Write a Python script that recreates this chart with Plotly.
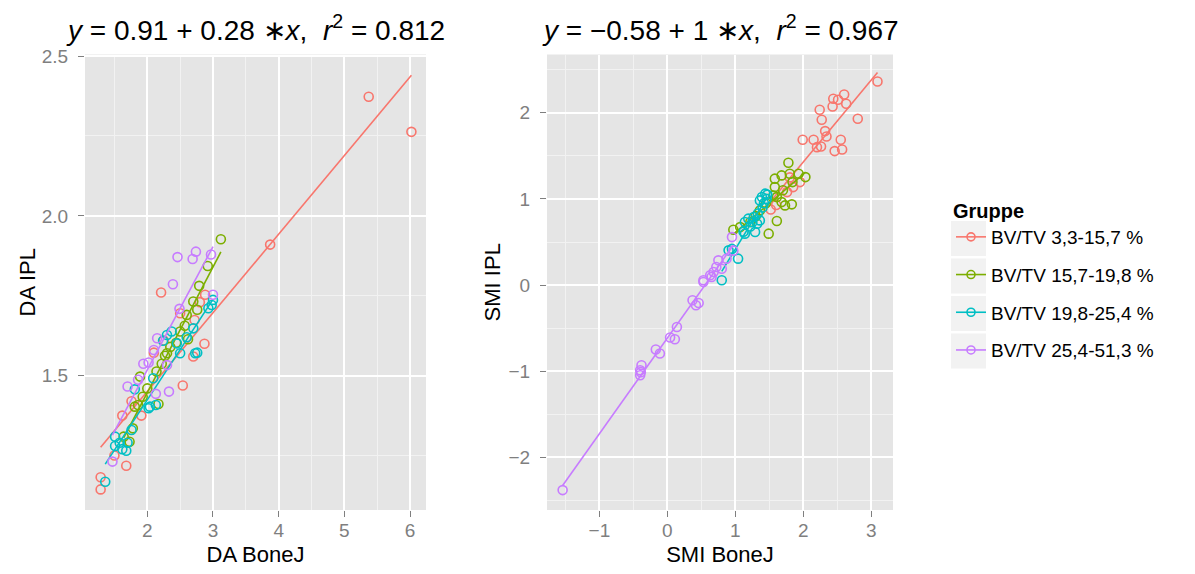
import numpy as np
import plotly.graph_objects as go

groups = ["BV/TV 3,3-15,7 %", "BV/TV 15,7-19,8 %", "BV/TV 19,8-25,4 %", "BV/TV 25,4-51,3 %"]
colors = ["#F8766D", "#7CAE00", "#00BFC4", "#C77CFF"]

# ---- Left panel: DA BoneJ (x) vs DA IPL (y)
da_bonej_1 = [1.29, 1.29, 1.68, 1.50, 1.62, 1.76, 1.91, 2.21, 2.54, 2.87, 2.70, 2.10, 2.25, 2.50, 2.72, 2.88, 2.80, 3.87, 5.37, 6.02]
da_ipl_1 = [1.182, 1.144, 1.218, 1.25, 1.375, 1.42, 1.375, 1.76, 1.469, 1.60, 1.56, 1.572, 1.61, 1.695, 1.674, 1.753, 1.73, 1.91, 2.373, 2.263]
da_bonej_2 = [3.12, 2.92, 2.79, 2.70, 2.76, 2.57, 2.62, 2.44, 2.27, 2.22, 1.89, 2.14, 2.17, 1.93, 1.81, 1.78, 1.64, 1.73, 2.60, 2.50, 2.30, 1.86, 2.35, 2.00]
da_ipl_2 = [1.927, 1.843, 1.781, 1.732, 1.706, 1.656, 1.614, 1.603, 1.562, 1.537, 1.497, 1.513, 1.411, 1.434, 1.403, 1.335, 1.309, 1.293, 1.690, 1.638, 1.570, 1.408, 1.590, 1.460]
da_bonej_3 = [1.36, 1.51, 1.58, 1.62, 1.68, 1.70, 1.76, 1.81, 2.04, 2.13, 2.02, 2.09, 2.24, 2.30, 2.37, 2.45, 2.50, 2.70, 2.76, 2.73, 2.93, 3.00, 2.98, 1.51, 2.60]
da_ipl_3 = [1.168, 1.280, 1.290, 1.270, 1.265, 1.290, 1.330, 1.457, 1.403, 1.408, 1.398, 1.492, 1.609, 1.627, 1.638, 1.601, 1.570, 1.648, 1.572, 1.570, 1.711, 1.737, 1.721, 1.309, 1.620]
da_bonej_4 = [2.46, 2.74, 2.69, 2.97, 2.39, 2.49, 3.00, 2.15, 2.10, 1.94, 2.02, 1.70, 2.13, 2.33, 1.47, 1.86, 2.30]
da_ipl_4 = [1.871, 1.888, 1.865, 1.879, 1.786, 1.709, 1.753, 1.617, 1.580, 1.537, 1.541, 1.466, 1.443, 1.450, 1.231, 1.487, 1.533]

# ---- Right panel: SMI BoneJ (x) vs SMI IPL (y)
smi_bonej_1 = [3.09, 2.44, 2.51, 2.60, 2.63, 2.43, 2.24, 2.27, 2.80, 2.32, 2.34, 1.99, 2.15, 2.20, 2.26, 2.55, 2.57, 2.46, 1.95, 1.85, 1.76, 1.52, 1.80, 1.60]
smi_ipl_1 = [2.363, 2.162, 2.151, 2.212, 2.104, 2.073, 2.035, 1.919, 1.930, 1.787, 1.725, 1.687, 1.687, 1.601, 1.609, 1.687, 1.574, 1.555, 1.195, 1.137, 1.079, 0.877, 1.250, 0.930]
smi_bonej_2 = [1.78, 1.58, 1.68, 1.80, 1.93, 2.03, 1.84, 1.58, 1.61, 1.68, 1.83, 1.73, 1.36, 1.61, 1.22, 0.97, 1.07, 1.49, 1.56, 1.45, 1.70, 1.30]
smi_ipl_2 = [1.420, 1.235, 1.273, 1.292, 1.292, 1.253, 1.195, 1.137, 1.021, 0.963, 0.937, 0.925, 0.867, 0.744, 0.732, 0.643, 0.673, 0.597, 1.040, 0.950, 1.100, 0.800]
smi_bonej_3 = [1.39, 1.44, 1.36, 1.47, 1.42, 1.19, 1.27, 1.14, 1.32, 1.36, 1.29, 1.14, 1.12, 1.22, 0.90, 1.04, 0.80, 1.25, 1.33, 1.40, 0.95, 1.46]
smi_ipl_3 = [1.022, 1.061, 0.983, 1.050, 0.950, 0.771, 0.790, 0.732, 0.713, 0.751, 0.616, 0.597, 0.620, 0.680, 0.403, 0.307, 0.056, 0.730, 0.830, 0.900, 0.420, 1.000]
smi_bonej_4 = [-1.54, -0.38, -0.40, -0.40, -0.39, -0.17, -0.11, 0.04, 0.11, 0.14, 0.37, 0.42, 0.46, 0.53, 0.63, 0.53, 0.72, 0.80, 0.75, 0.95, 0.87, 0.68, 0.65, 0.97]
smi_ipl_4 = [-2.379, -0.930, -0.988, -1.046, -1.010, -0.748, -0.794, -0.609, -0.628, -0.486, -0.176, -0.234, -0.207, 0.036, 0.114, 0.056, 0.210, 0.190, 0.287, 0.557, 0.307, 0.152, 0.094, 0.400]

left_title = "<i>y</i> = 0.91 + 0.28 \u2217<i>x</i>,  <i>r</i><sup>2</sup> = 0.812"
right_title = "<i>y</i> = \u22120.58 + 1 \u2217<i>x</i>,  <i>r</i><sup>2</sup> = 0.967"

left_x = [da_bonej_1, da_bonej_2, da_bonej_3, da_bonej_4]
left_y = [da_ipl_1, da_ipl_2, da_ipl_3, da_ipl_4]
right_x = [smi_bonej_1, smi_bonej_2, smi_bonej_3, smi_bonej_4]
right_y = [smi_ipl_1, smi_ipl_2, smi_ipl_3, smi_ipl_4]

# page has an 8px body margin: size the figure so it fits the 1195x574 window
OFF = 8
W, H = 1195 - OFF, 574 - OFF
FONT = "Liberation Sans, Arial, Helvetica, sans-serif"
GREY50 = "#7F7F7F"


def fx(px):
    return (px - OFF) / W


def fy(py):
    return 1 - (py - OFF) / H


fig = go.Figure()


def add_panel(xs_list, ys_list, xa, ya):
    for g, c, xs, ys in zip(groups, colors, xs_list, ys_list):
        xs = np.asarray(xs, float)
        ys = np.asarray(ys, float)
        fig.add_trace(go.Scatter(
            x=xs, y=ys, mode="markers", xaxis=xa, yaxis=ya, showlegend=False,
            marker=dict(symbol="circle-open", size=9, color=c, line=dict(width=1.6, color=c)),
            hoverinfo="skip"))
        slope, icpt = np.polyfit(xs, ys, 1)
        lx = np.array([xs.min(), xs.max()])
        fig.add_trace(go.Scatter(
            x=lx, y=icpt + slope * lx, mode="lines", xaxis=xa, yaxis=ya, showlegend=False,
            line=dict(color=c, width=1.6), hoverinfo="skip"))


add_panel(left_x, left_y, "x", "y")
add_panel(right_x, right_y, "x2", "y2")

for g, c in zip(groups, colors):
    fig.add_trace(go.Scatter(
        x=[None], y=[None], mode="lines+markers", name=g, legendgroup=g,
        line=dict(color=c, width=1.6),
        marker=dict(symbol="circle-open", size=8, color=c, line=dict(width=1.6, color=c))))

ydom = [fy(510), fy(54.5)]
axis_common = dict(
    showgrid=True, gridcolor="white", gridwidth=1.6, zeroline=False,
    ticks="outside", ticklen=6, tickwidth=1.2, tickcolor=GREY50,
    tickfont=dict(family=FONT, size=19, color=GREY50),
    showline=False, automargin=False,
)
minor_x = dict(dtick=0.5, tick0=0, showgrid=True, gridcolor="#F2F2F2", gridwidth=0.8)

fig.update_layout(
    width=W, height=H,
    margin=dict(l=0, r=0, t=0, b=0, autoexpand=False),
    paper_bgcolor="white", plot_bgcolor="#E5E5E5",
    font=dict(family=FONT, color="black"),
    xaxis=dict(domain=[fx(85), fx(426)], range=[1.052, 6.242], dtick=1, tick0=0,
               minor=minor_x, ticklabelstandoff=-3,
               title=dict(text="DA BoneJ", font=dict(family=FONT, size=22), standoff=6),
               anchor="y", **axis_common),
    yaxis=dict(domain=ydom, range=[1.0795, 2.505], dtick=0.5, tick0=0, tickformat=".1f",
               minor=dict(dtick=0.25, tick0=0, showgrid=True, gridcolor="#F2F2F2", gridwidth=0.8),
               ticklabelstandoff=6,
               title=dict(text="DA IPL", font=dict(family=FONT, size=22), standoff=0),
               anchor="x", **axis_common),
    xaxis2=dict(domain=[fx(547), fx(893)], range=[-1.77, 3.318], dtick=1, tick0=0,
                minor=minor_x, ticklabelstandoff=-3,
                title=dict(text="SMI BoneJ", font=dict(family=FONT, size=22), standoff=6),
                anchor="y2", **axis_common),
    yaxis2=dict(domain=ydom, range=[-2.61, 2.676], dtick=1, tick0=0,
                minor=dict(dtick=0.5, tick0=0, showgrid=True, gridcolor="#F2F2F2", gridwidth=0.8),
                ticklabelstandoff=6,
                title=dict(text="SMI IPL", font=dict(family=FONT, size=22), standoff=1),
                anchor="x2", **axis_common),
    legend=dict(x=fx(951), y=fy(192), xanchor="left", yanchor="top",
                title=dict(text="<b>Gruppe</b>", font=dict(family=FONT, size=20)),
                font=dict(family=FONT, size=19), tracegroupgap=10, itemwidth=30,
                traceorder="grouped", bgcolor="rgba(0,0,0,0)"),
    annotations=[
        dict(text=left_title, x=fx((85 + 426) / 2), y=fy(28), xref="paper", yref="paper",
             xanchor="center", yanchor="middle", showarrow=False,
             font=dict(family=FONT, size=28, color="black")),
        dict(text=right_title, x=fx((547 + 893) / 2), y=fy(28), xref="paper", yref="paper",
             xanchor="center", yanchor="middle", showarrow=False,
             font=dict(family=FONT, size=28, color="black")),
    ],
)

# grey legend key backgrounds (ggplot style)
shapes = []
for i in range(len(groups)):
    top = 221 + 37.5 * i
    shapes.append(dict(type="rect", xref="paper", yref="paper",
                       x0=fx(951), x1=fx(986), y0=fy(top + 35), y1=fy(top),
                       fillcolor="#F2F2F2", line=dict(width=0), layer="below"))
fig.update_layout(shapes=shapes)

fig.write_html("out.html")
